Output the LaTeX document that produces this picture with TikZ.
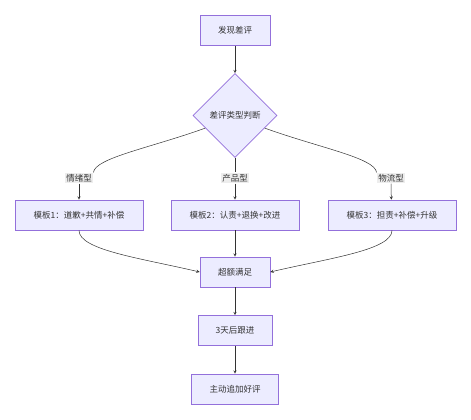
\documentclass[tikz,border=0pt]{standalone}
\usepackage{fontspec}
\setmainfont{Noto Sans CJK SC}
\usetikzlibrary{calc,arrows,shapes.geometric,positioning}
\definecolor{boxfill}{HTML}{ECECFF}
\definecolor{boxline}{HTML}{9370DB}
\definecolor{edgeline}{HTML}{333333}
\definecolor{labfill}{HTML}{E8E8E8}

\begin{document}
\begin{tikzpicture}[x=1pt, y=-1pt, font=\fontsize{8.5}{10}\selectfont, text=edgeline]

\tikzset{
step box/.style={rectangle,fill=boxfill,draw=boxline,line width=0.6pt,minimum height=30pt,inner sep=2pt},
judge/.style={diamond,aspect=1,fill=boxfill,draw=boxline,line width=0.6pt,minimum width=84pt,minimum height=84pt,inner sep=0pt},
edgelab/.style={fill=labfill,fill opacity=0.8,text opacity=1,inner sep=1.5pt},
flow/.style={->,>=stealth,draw=edgeline,line width=0.5pt},
plain/.style={draw=edgeline,line width=0.5pt}
}

\useasboundingbox (0,0) rectangle (471,420);

% Nodes
\node[step box, minimum width=70pt] (found) at (235,30.5) {发现差评};
\node[judge] (judge) at (235,115.5) {差评类型判断};

\node[step box, minimum width=128pt] (tmpl1) at (79,215) {模板1：道歉+共情+补偿};
\node[step box, minimum width=128pt] (tmpl2) at (235,215) {模板2：认责+退换+改进};
\node[step box, minimum width=128pt] (tmpl3) at (392,215) {模板3：担责+补偿+升级};

\node[step box, minimum width=70pt] (exceed) at (235,272) {超额满足};
\node[step box, minimum width=74pt] (follow) at (235,330.5) {3天后跟进};
\node[step box, minimum width=87pt] (praise) at (235,389) {主动追加好评};

% Labels
\node[edgelab] (lab1) at (79,178) {情绪型};
\node[edgelab] (lab2) at (235,178) {产品型};
\node[edgelab] (lab3) at (391,178) {物流型};

% Arrows
\draw[flow] (found) -- (judge);

\draw[plain] (judge.203) .. controls (150,148) and (95,158) .. (lab1.north east);
\draw[flow] (lab1) .. controls (79,190) .. (tmpl1);
\draw[plain] (judge) -- (lab2);
\draw[flow] (lab2) -- (tmpl2);
\draw[plain] (judge.337) .. controls (320,148) and (375,158) .. (lab3.north west);
\draw[flow] (lab3) .. controls (391,190) .. (tmpl3);

\draw[flow] (tmpl1) .. controls (79,250) and (140,258) .. (exceed.west);
\draw[flow] (tmpl2) -- (exceed);
\draw[flow] (tmpl3) .. controls (392,250) and (330,258) .. (exceed.east);

\draw[flow] (exceed) -- (follow);
\draw[flow] (follow) -- (praise);

\end{tikzpicture}
\end{document}
